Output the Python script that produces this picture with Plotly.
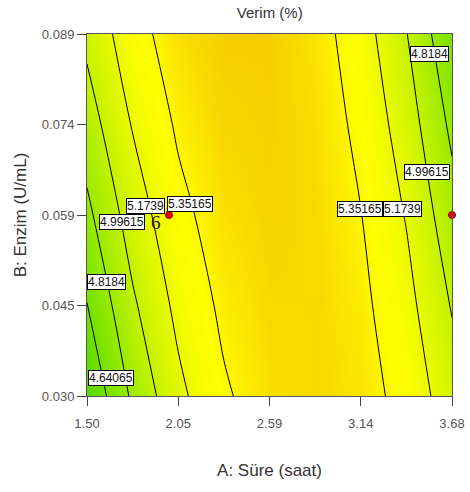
import plotly.graph_objects as go

# ---- data ----
A_vals = [1.5, 1.7725, 2.045, 2.3175, 2.59, 2.8625, 3.135, 3.4075, 3.68]   # A: Süre (saat)
B_vals = [0.030, 0.04475, 0.0595, 0.07425, 0.089]                            # B: Enzim (U/mL)
Z_rows = [
    [4.485, 4.849, 5.130, 5.328, 5.442, 5.475, 5.424, 5.290, 5.074],
    [4.636, 4.969, 5.220, 5.388, 5.473, 5.475, 5.394, 5.230, 4.984],
    [4.778, 5.081, 5.302, 5.440, 5.495, 5.467, 5.356, 5.163, 4.887],
    [4.912, 5.185, 5.376, 5.484, 5.509, 5.451, 5.311, 5.087, 4.781],
    [5.038, 5.281, 5.442, 5.520, 5.515, 5.427, 5.257, 5.003, 4.667],
]
levels = [4.4629, 4.64065, 4.8184, 4.99615, 5.1739, 5.35165, 5.5294]

x_tickvals = [1.5, 2.045, 2.59, 3.135, 3.68]
x_ticktext = ["1.50", "2.05", "2.59", "3.14", "3.68"]
y_tickvals = [0.030, 0.04475, 0.0595, 0.07425, 0.089]
y_ticktext = ["0.030", "0.045", "0.059", "0.074", "0.089"]

design_A = [1.99, 3.68]
design_B = [0.0595, 0.0595]
replicate_text = "6"

# contour label placements: (level text, A, B)
label_texts = ["4.8184", "4.99615", "5.35165", "5.1739", "5.1739", "5.35165", "4.99615", "4.8184", "4.64065"]
label_A = [3.543, 3.531, 3.130, 3.387, 1.852, 2.115, 1.709, 1.619, 1.643]
label_B = [0.0857, 0.0665, 0.0605, 0.0605, 0.0610, 0.0613, 0.0584, 0.0486, 0.0329]

FONT = "Liberation Sans, Arial, sans-serif"

colorscale = [
    [0.00, "#4ed800"],
    [0.28, "#8de800"],
    [0.52, "#c9f300"],
    [0.70, "#f2fb00"],
    [0.80, "#ffff00"],
    [1.00, "#f5cb00"],
]

fig = go.Figure()
fig.add_trace(go.Contour(
    x=A_vals, y=B_vals, z=Z_rows,
    colorscale=colorscale, zmin=4.46, zmax=5.53,
    showscale=False,
    contours=dict(start=levels[0], end=levels[-1], size=levels[1] - levels[0],
                  coloring="heatmap", showlabels=False),
    line=dict(color="black", width=1, smoothing=1.0),
    hoverinfo="skip",
))
fig.add_trace(go.Scatter(
    x=design_A, y=design_B, mode="markers",
    marker=dict(color="#ee0000", size=7, symbol="circle", line=dict(color="#880000", width=1)),
    cliponaxis=False, showlegend=False,
))

annotations = []
for t, a, b in zip(label_texts, label_A, label_B):
    annotations.append(dict(
        x=a, y=b, xref="x", yref="y", text=t, showarrow=False,
        font=dict(family=FONT, size=12, color="#111"),
        bgcolor="white", bordercolor="black", borderwidth=1, borderpad=0,
    ))
annotations.append(dict(
    x=1.915, y=0.0583, xref="x", yref="y", text=replicate_text, showarrow=False,
    font=dict(family="Liberation Serif, Times New Roman, serif", size=19, color="#222"),
))

fig.update_layout(
    width=470, height=492,
    margin=dict(l=87, r=18, t=34, b=96, autoexpand=False),
    paper_bgcolor="white", plot_bgcolor="white",
    showlegend=False,
    title=dict(text="Verim (%)", x=0.574, xanchor="center", y=0.975, yanchor="middle",
               font=dict(family=FONT, size=15, color="#333")),
    font=dict(family=FONT),
    annotations=annotations,
)
fig.update_xaxes(
    range=[1.5, 3.68], tickvals=x_tickvals, ticktext=x_ticktext,
    ticks="outside", ticklen=9, tickcolor="#444", tickwidth=1, ticklabelstandoff=6,
    showline=True, linecolor="#555", linewidth=1, mirror=True,
    showgrid=False, zeroline=False, automargin=False,
    tickfont=dict(family=FONT, size=13, color="#555"),
    title=dict(text="A: Süre (saat)", font=dict(family=FONT, size=17, color="#333"), standoff=34),
)
fig.update_yaxes(
    range=[0.030, 0.089], tickvals=y_tickvals, ticktext=y_ticktext,
    ticks="outside", ticklen=9, tickcolor="#444", tickwidth=1,
    showline=True, linecolor="#555", linewidth=1, mirror=True,
    showgrid=False, zeroline=False, automargin=False,
    tickfont=dict(family=FONT, size=13, color="#555"),
    title=dict(text="B: Enzim (U/mL)", font=dict(family=FONT, size=17, color="#333"), standoff=10),
)

fig.write_html("out.html")
